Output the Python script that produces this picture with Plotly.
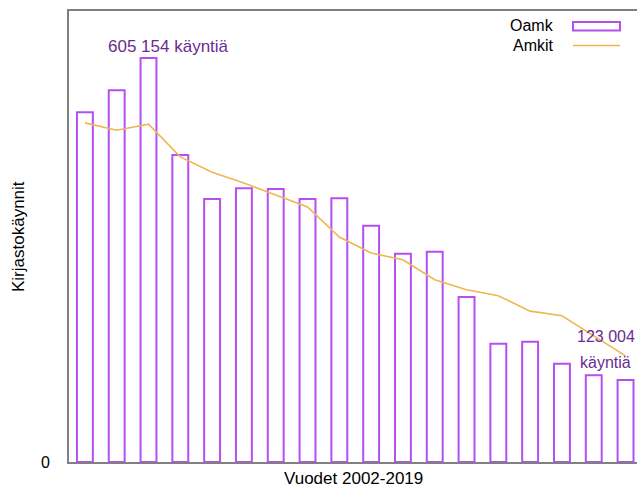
import plotly.graph_objects as go

years = [str(y) for y in range(2002, 2020)]
oamk = [524000, 557000, 605154, 460000, 394000, 410000, 409000, 394000, 395000,
        354000, 312000, 315000, 247000, 177000, 180000, 147000, 130000, 123004]
amkit = [508000, 497000, 506000, 457000, 434000, 418000, 400000, 382000, 337000,
         313000, 303000, 273000, 258000, 249000, 226000, 219000, 189000, 159000]
y_ticks = [0]
y_ticktext = ["0"]

FONT = "Liberation Sans, Arial, sans-serif"
PURPLE = "#b64ff2"
ORANGE = "#f0b650"
TXT_PURPLE = "#6a2d8f"
GRAY = "#808080"

W, H = 637, 487
L, T, B = 69, 11, 25
pw = W - L
ph = H - T - B


def px(x):
    return (x - L) / pw


def py(y):
    return (H - B - y) / ph


fig = go.Figure()
fig.add_trace(go.Bar(
    x=list(range(len(years))), y=oamk, name="Oamk",
    marker=dict(color="rgba(255,255,255,0)", line=dict(color=PURPLE, width=2)),
    hovertext=years,
))
fig.add_trace(go.Scatter(
    x=list(range(len(years))), y=amkit, name="Amkit", mode="lines",
    line=dict(color=ORANGE, width=1.6),
    hovertext=years,
))

fig.update_layout(
    width=W, height=H,
    margin=dict(l=L, r=0, t=T, b=B),
    plot_bgcolor="white", paper_bgcolor="white",
    showlegend=False,
    bargap=0.5,
    font=dict(family=FONT, size=16, color="#000000"),
    xaxis=dict(range=[-0.5, 17.36], showticklabels=False, ticks="",
               showgrid=False, zeroline=False, showline=True, mirror=True,
               linecolor=GRAY, linewidth=2),
    yaxis=dict(range=[0, 675600], tickvals=y_ticks, ticktext=y_ticktext,
               ticks="", ticklabelstandoff=14, showgrid=False, zeroline=False,
               showline=True, linecolor=GRAY, linewidth=2,
               tickfont=dict(size=16, color="#000000")),
)

annotations = [
    dict(text="605 154 käyntiä", x=2.62, y=623000, xref="x", yref="y",
         showarrow=False, xanchor="center", yanchor="middle",
         font=dict(size=17, color=TXT_PURPLE)),
    dict(text="123 004", x=15.4, y=(462 - 336) * 1498, xref="x", yref="y",
         showarrow=False, xanchor="left", yanchor="middle",
         font=dict(size=16, color=TXT_PURPLE)),
    dict(text="käyntiä", x=15.5, y=(462 - 362) * 1498, xref="x", yref="y",
         showarrow=False, xanchor="left", yanchor="middle",
         font=dict(size=16, color=TXT_PURPLE)),
    dict(text="Kirjastokäynnit", x=px(18), y=py(237), xref="paper", yref="paper",
         showarrow=False, textangle=-90, xanchor="center", yanchor="middle",
         font=dict(size=17)),
    dict(text="Vuodet 2002-2019", x=px(353), y=py(479), xref="paper", yref="paper",
         showarrow=False, xanchor="center", yanchor="middle",
         font=dict(size=17)),
    dict(text="Oamk", x=px(556), y=py(26), xref="paper", yref="paper",
         showarrow=False, xanchor="right", yanchor="middle", font=dict(size=16)),
    dict(text="Amkit", x=px(556), y=py(45), xref="paper", yref="paper",
         showarrow=False, xanchor="right", yanchor="middle", font=dict(size=16)),
]
fig.update_layout(annotations=annotations)

fig.update_layout(shapes=[
    dict(type="rect", xref="paper", yref="paper",
         x0=px(573), x1=px(620), y0=py(30.5), y1=py(22),
         line=dict(color=PURPLE, width=2), fillcolor="rgba(0,0,0,0)"),
    dict(type="line", xref="paper", yref="paper",
         x0=px(573), x1=px(620), y0=py(45.5), y1=py(45.5),
         line=dict(color=ORANGE, width=1.6)),
])

fig.write_html(
    "out.html",
    config={"displayModeBar": False},
    post_script="document.body.style.margin='0';document.body.style.overflow='hidden';",
)
